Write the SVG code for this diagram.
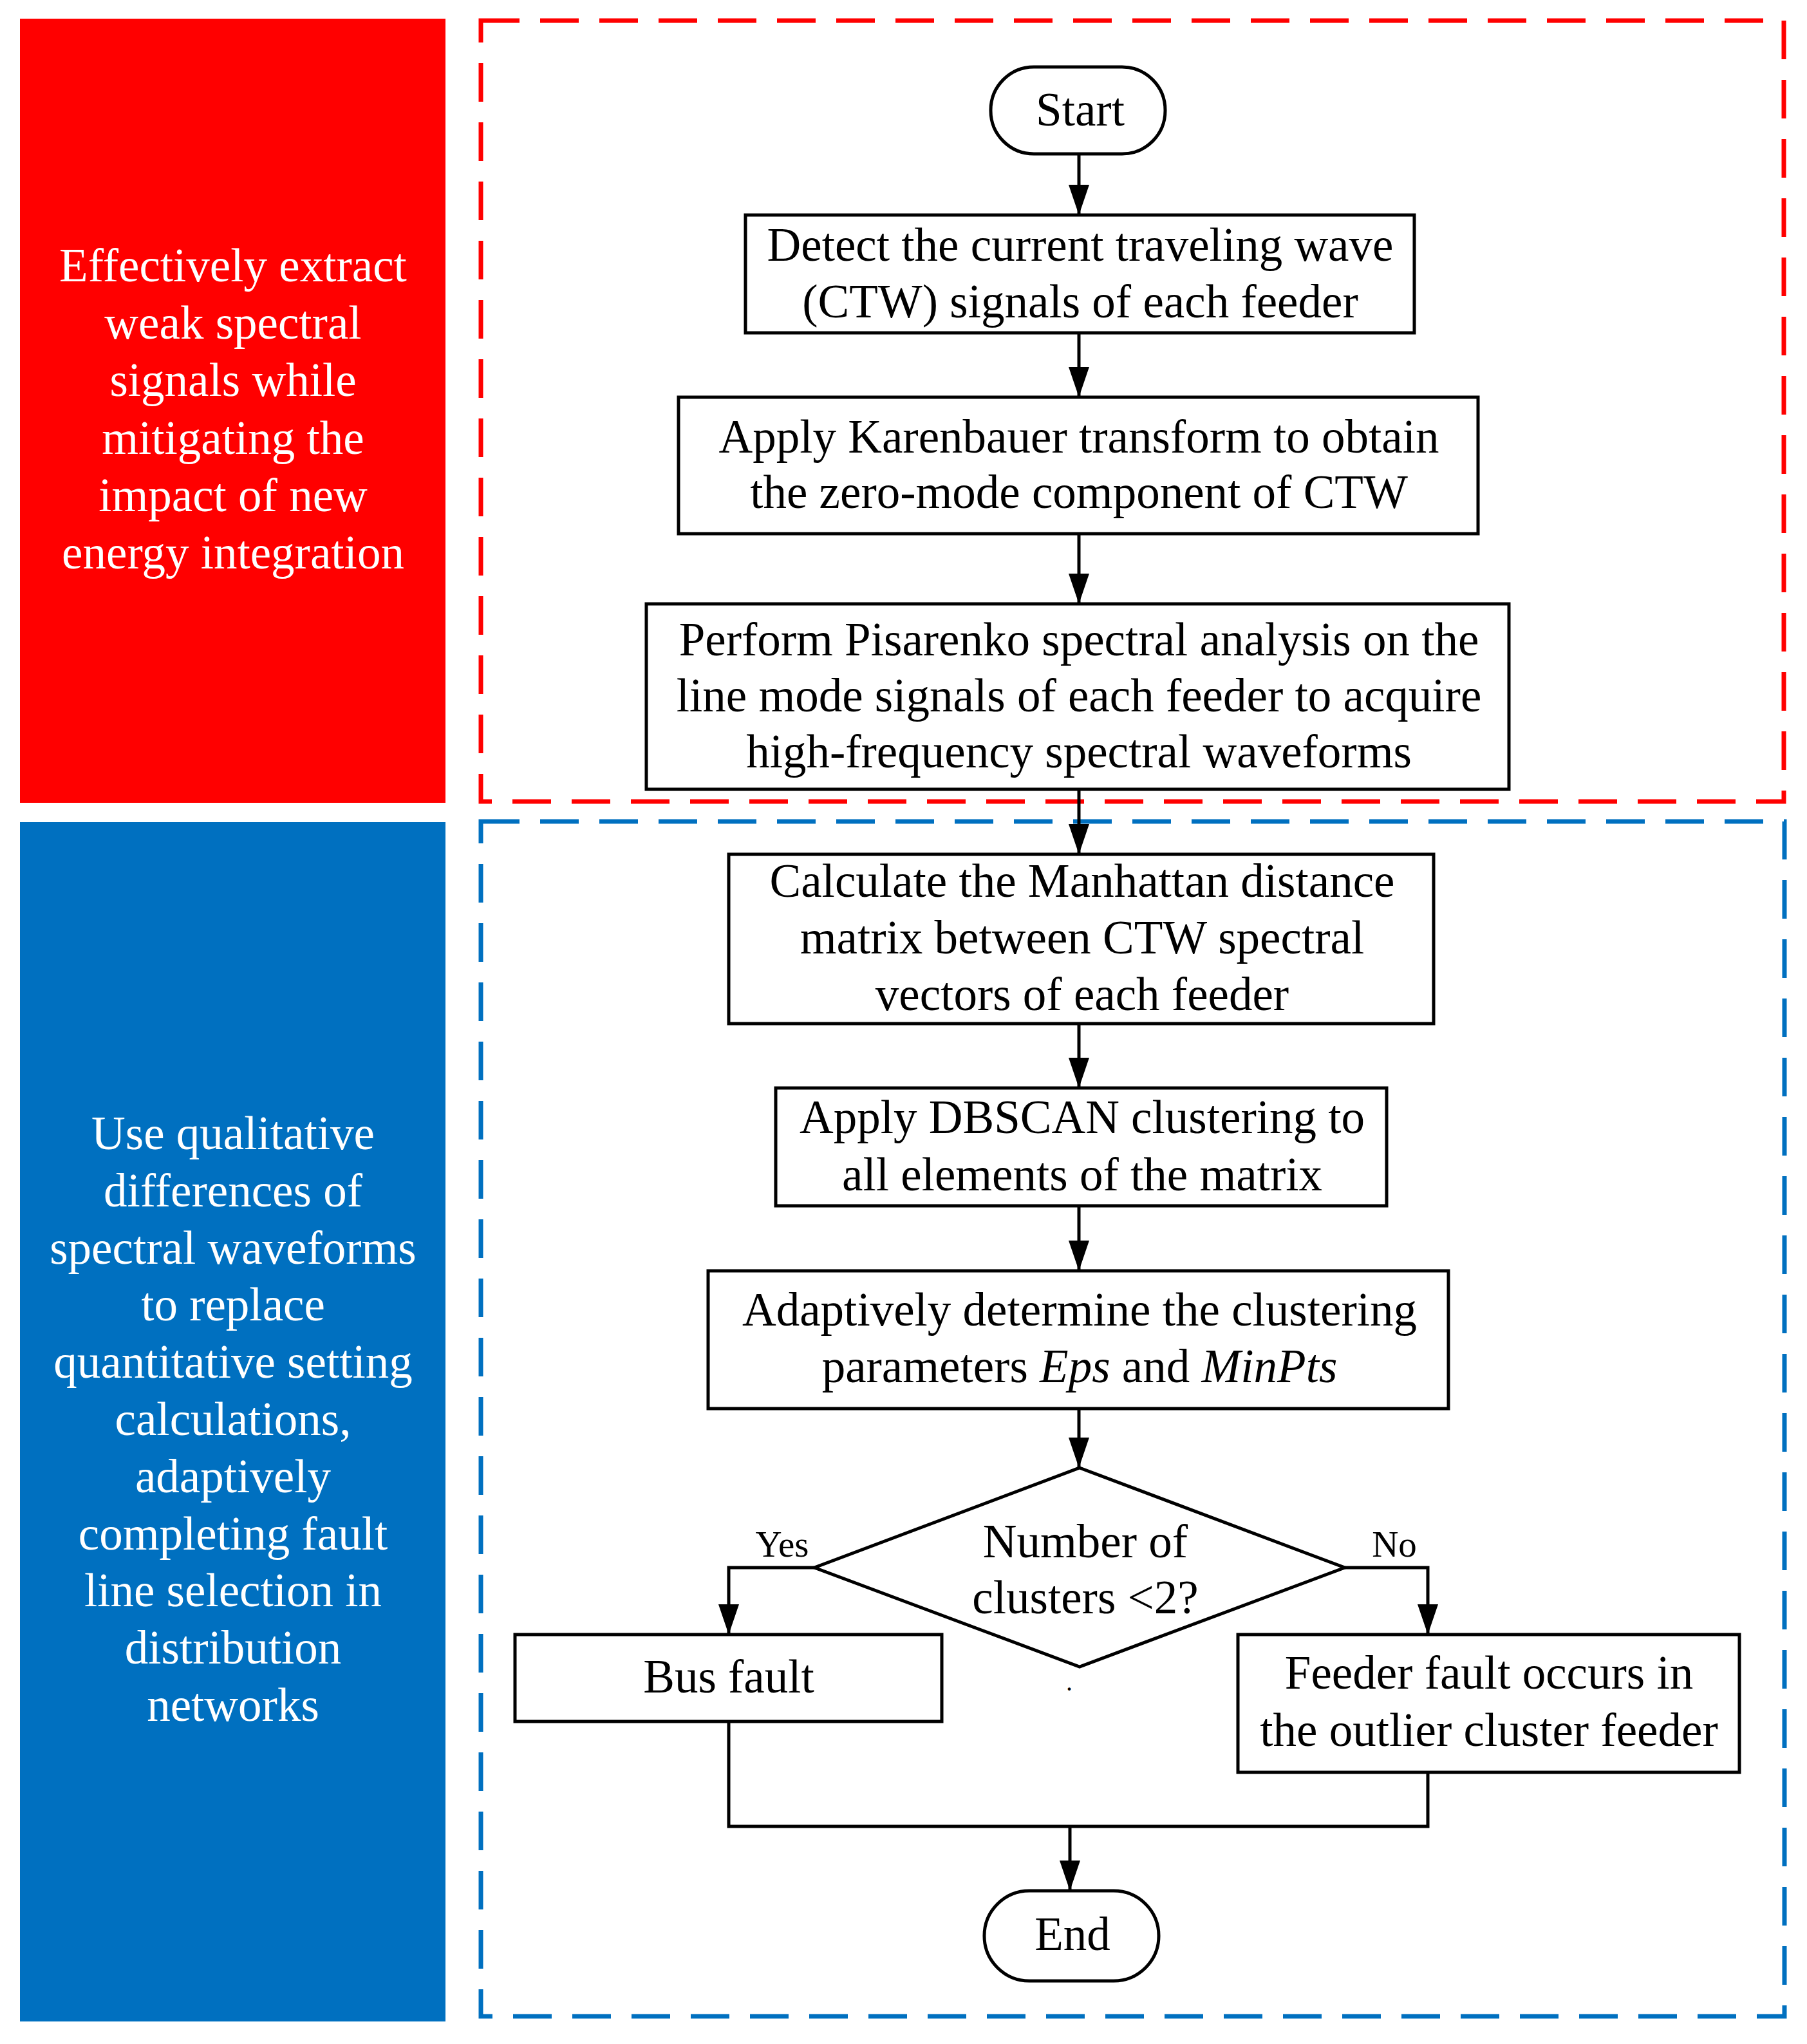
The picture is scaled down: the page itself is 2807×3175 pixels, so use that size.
<svg xmlns="http://www.w3.org/2000/svg" width="2807" height="3175" viewBox="0 0 2807 3175">
<defs>
<style>
text{font-family:"Liberation Serif","Times New Roman",serif;font-size:73px;text-anchor:middle;fill:#000}
.w{fill:#fff}
.lbl{font-size:57px}
.box{fill:#fff;stroke:#000;stroke-width:5}
.con{fill:none;stroke:#000;stroke-width:5}
.dash{fill:none;stroke-width:7;stroke-dasharray:60 32}
</style>
<marker id="ah" markerUnits="userSpaceOnUse" markerWidth="48" markerHeight="32" refX="47" refY="16" orient="auto">
<path d="M0,0 L47,16 L0,32 z" fill="#000"/>
</marker>
</defs>
<rect width="2807" height="3175" fill="#fff"/>
<g id="panel-red">
<rect x="31" y="29" width="661" height="1218" fill="#FF0000"/>
<text class="w" x="362" y="437">Effectively extract</text>
<text class="w" x="362" y="526">weak spectral</text>
<text class="w" x="362" y="615">signals while</text>
<text class="w" x="362" y="705">mitigating the</text>
<text class="w" x="362" y="794">impact of new</text>
<text class="w" x="362" y="883">energy integration</text>
</g>
<g id="panel-blue">
<rect x="31" y="1277" width="661" height="1863" fill="#0070C0"/>
<text class="w" x="362" y="1785">Use qualitative</text>
<text class="w" x="362" y="1874">differences of</text>
<text class="w" x="362" y="1963">spectral waveforms</text>
<text class="w" x="362" y="2051">to replace</text>
<text class="w" x="362" y="2140">quantitative setting</text>
<text class="w" x="362" y="2229">calculations,</text>
<text class="w" x="362" y="2318">adaptively</text>
<text class="w" x="362" y="2407">completing fault</text>
<text class="w" x="362" y="2495">line selection in</text>
<text class="w" x="362" y="2584">distribution</text>
<text class="w" x="362" y="2673">networks</text>
</g>
<g id="frame-red"><rect class="dash" x="747" y="32" width="2024" height="1213" stroke="#FF0000"/></g>
<g id="frame-blue"><rect class="dash" x="747" y="1276" width="2025" height="1856" stroke="#0070C0"/></g>
<g id="connectors">
<line class="con" x1="1676" y1="239" x2="1676" y2="334" marker-end="url(#ah)"/>
<line class="con" x1="1676" y1="517" x2="1676" y2="617" marker-end="url(#ah)"/>
<line class="con" x1="1676" y1="829" x2="1676" y2="938" marker-end="url(#ah)"/>
<line class="con" x1="1676" y1="1226" x2="1676" y2="1327" marker-end="url(#ah)"/>
<line class="con" x1="1676" y1="1590" x2="1676" y2="1690" marker-end="url(#ah)"/>
<line class="con" x1="1676" y1="1873" x2="1676" y2="1974" marker-end="url(#ah)"/>
<line class="con" x1="1676" y1="2188" x2="1676" y2="2280" marker-end="url(#ah)"/>
<polyline class="con" points="1265,2435 1132,2435 1132,2539" marker-end="url(#ah)"/>
<polyline class="con" points="2089,2435 2218,2435 2218,2539" marker-end="url(#ah)"/>
<polyline class="con" points="1132,2674 1132,2837 2218,2837 2218,2753"/>
<line class="con" x1="1662" y1="2837" x2="1662" y2="2937" marker-end="url(#ah)"/>
<text class="lbl" x="1215" y="2418">Yes</text>
<text class="lbl" x="2166" y="2418">No</text>
</g>
<g id="start">
<rect class="box" x="1539" y="104" width="271" height="135" rx="67" ry="67"/>
<text x="1678" y="195">Start</text>
</g>
<g id="detect">
<rect class="box" x="1158" y="334" width="1039" height="183"/>
<text x="1678" y="405">Detect the current traveling wave</text>
<text x="1678" y="493">(CTW) signals of each feeder</text>
</g>
<g id="karenbauer">
<rect class="box" x="1054" y="617" width="1242" height="212"/>
<text x="1676" y="703">Apply Karenbauer transform to obtain</text>
<text x="1676" y="789">the zero-mode component of CTW</text>
</g>
<g id="pisarenko">
<rect class="box" x="1004" y="938" width="1340" height="288"/>
<text x="1676" y="1018">Perform Pisarenko spectral analysis on the</text>
<text x="1676" y="1105">line mode signals of each feeder to acquire</text>
<text x="1676" y="1192">high-frequency spectral waveforms</text>
</g>
<g id="manhattan">
<rect class="box" x="1132" y="1327" width="1095" height="263"/>
<text x="1681" y="1393">Calculate the Manhattan distance</text>
<text x="1681" y="1481">matrix between CTW spectral</text>
<text x="1681" y="1569">vectors of each feeder</text>
</g>
<g id="dbscan">
<rect class="box" x="1205" y="1690" width="949" height="183"/>
<text x="1681" y="1760">Apply DBSCAN clustering to</text>
<text x="1681" y="1849">all elements of the matrix</text>
</g>
<g id="adaptive">
<rect class="box" x="1100" y="1974" width="1150" height="214"/>
<text x="1677" y="2059">Adaptively determine the clustering</text>
<text x="1677" y="2147">parameters <tspan font-style="italic">Eps</tspan> and <tspan font-style="italic">MinPts</tspan></text>
</g>
<g id="decision">
<polygon class="box" points="1677,2280 2089,2435 1677,2589 1265,2435"/>
<text x="1686" y="2419">Number of</text>
<text x="1686" y="2506">clusters &lt;2?</text>
<text x="1661" y="2626" style="font-size:40px">.</text>
</g>
<g id="bus-fault">
<rect class="box" x="800" y="2539" width="663" height="135"/>
<text x="1132" y="2629">Bus fault</text>
</g>
<g id="feeder-fault">
<rect class="box" x="1923" y="2539" width="779" height="214"/>
<text x="2313" y="2623">Feeder fault occurs in</text>
<text x="2313" y="2712">the outlier cluster feeder</text>
</g>
<g id="end">
<rect class="box" x="1529" y="2937" width="271" height="140" rx="70" ry="70"/>
<text x="1666" y="3029">End</text>
</g>
</svg>
